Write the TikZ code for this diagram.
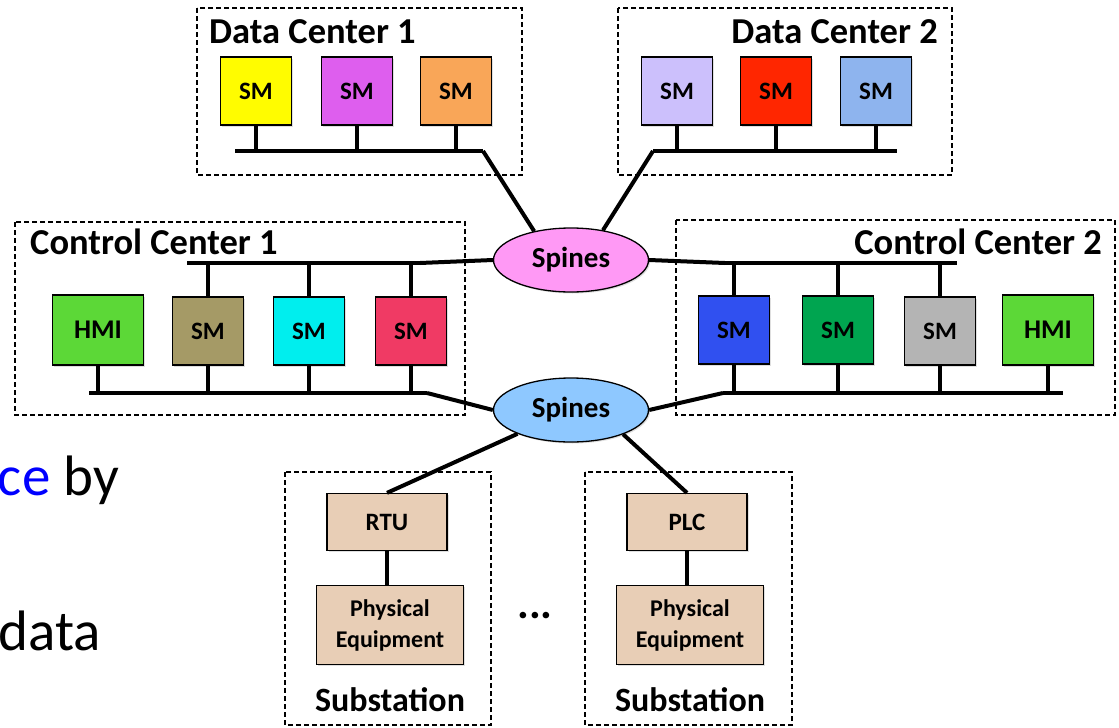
\documentclass[tikz,border=0pt]{standalone}
\usepackage{fontspec}
\setmainfont{Carlito}
\usetikzlibrary{shapes.geometric,shadows}
\definecolor{cYellow}{RGB}{255,252,0}
\definecolor{cPurple}{RGB}{222,94,238}
\definecolor{cOrange}{RGB}{249,166,88}
\definecolor{cLav}{RGB}{204,192,252}
\definecolor{cRed}{RGB}{255,38,0}
\definecolor{cLBlue}{RGB}{142,180,238}
\definecolor{cOlive}{RGB}{165,154,102}
\definecolor{cCyan}{RGB}{0,238,238}
\definecolor{cRose}{RGB}{240,58,100}
\definecolor{cBlue}{RGB}{48,80,240}
\definecolor{cGreen}{RGB}{0,165,80}
\definecolor{cGray}{RGB}{180,180,180}
\definecolor{cHMI}{RGB}{92,216,55}
\definecolor{cPink}{RGB}{255,153,245}
\definecolor{cSky}{RGB}{142,200,255}
\definecolor{cTan}{RGB}{232,206,182}
\definecolor{cTxtBlue}{RGB}{0,0,255}
\begin{document}
\begin{tikzpicture}[x=1pt,y=-1pt,
  dev/.style={draw=black, line width=1.3pt, minimum width=71pt, minimum height=68pt, inner sep=0pt,
    font=\bfseries\fontsize{25}{27}\selectfont,
    drop shadow={opacity=0.25, shadow xshift=1.5pt, shadow yshift=-1.5pt}},
  hmibox/.style={dev, minimum width=91pt, minimum height=70pt, font=\bfseries\fontsize{27}{29}\selectfont},
  tanbox/.style={dev, fill=cTan, minimum width=120pt, minimum height=57pt},
  pebox/.style={dev, fill=cTan, minimum width=147pt, minimum height=79pt, align=center,
    font=\bfseries\fontsize{24}{31}\selectfont},
  grp/.style={draw=black, dash pattern=on 5pt off 3pt, line width=1.3pt},
  bus/.style={line width=4pt},
  title/.style={font=\bfseries\fontsize{36.5}{38}\selectfont, inner sep=0pt},
  subtitle/.style={title, font=\bfseries\fontsize{34}{36}\selectfont},
  spine/.style={ellipse, draw=black, line width=1.3pt, minimum width=155pt, minimum height=64pt,
    inner sep=0pt, font=\bfseries\fontsize{29}{31}\selectfont,
    drop shadow={opacity=0.25, shadow xshift=1.5pt, shadow yshift=-1.5pt}},
  slide/.style={font=\fontsize{57}{60}\selectfont, inner sep=0pt}
]
\path[use as bounding box] (0,0) rectangle (1119,728);
\clip (0,0) rectangle (1119,728);
\fill[white] (0,0) rectangle (1119,728);

% slide text fragments
\node[slide, anchor=base east] (txtA) at (119,495) {\textcolor{cTxtBlue}{ce} by};
\node[slide, anchor=base east] (txtB) at (101,650) {data};

% group frames
\draw[grp] (197,8) rectangle (522,175);
\draw[grp] (618,8) rectangle (952,175);
\draw[grp] (15,222) rectangle (465,415);
\draw[grp] (676,220) rectangle (1115,415);
\draw[grp] (285,472) rectangle (491,725);
\draw[grp] (585,472) rectangle (792,725);

% titles
\node[title, anchor=base west] (tDC1) at (209,43) {Data Center 1};
\node[title, anchor=base east] (tDC2) at (938,43) {Data Center 2};
\node[title, anchor=base west] (tCC1) at (30,254) {Control Center 1};
\node[title, anchor=base east] (tCC2) at (1102,254) {Control Center 2};
\node[subtitle, anchor=base] (tS1) at (390,711) {Substation};
\node[subtitle, anchor=base] (tS2) at (690,711) {Substation};
\node[title, anchor=base, font=\bfseries\fontsize{44}{46}\selectfont] (dots) at (535,618) {...};

% spines
\node[spine, fill=cPink] (sp1) at (571,260) {Spines};
\node[spine, fill=cSky] (sp2) at (571,410) {Spines};

% data center 1
\node[dev, fill=cYellow] (a1) at (256,91) {SM};
\node[dev, fill=cPurple] (a2) at (357,91) {SM};
\node[dev, fill=cOrange] (a3) at (456,91) {SM};
% data center 2
\node[dev, fill=cLav] (b1) at (677,91) {SM};
\node[dev, fill=cRed] (b2) at (776,91) {SM};
\node[dev, fill=cLBlue] (b3) at (876,91) {SM};
% control center 1
\node[hmibox, fill=cHMI] (c0) at (98,330) {HMI};
\node[dev, fill=cOlive] (c1) at (208,331) {SM};
\node[dev, fill=cCyan] (c2) at (309,331) {SM};
\node[dev, fill=cRose] (c3) at (411,331) {SM};
% control center 2
\node[dev, fill=cBlue] (e1) at (734,330) {SM};
\node[dev, fill=cGreen] (e2) at (838,330) {SM};
\node[dev, fill=cGray] (e3) at (940,331) {SM};
\node[hmibox, fill=cHMI] (e4) at (1048,330) {HMI};
% substations
\node[tanbox] (rtu) at (387,522) {RTU};
\node[tanbox] (plc) at (687,522) {PLC};
\node[pebox] (pe1) at (390,625) {Physical\\Equipment};
\node[pebox] (pe2) at (690,625) {Physical\\Equipment};

% bus coordinates
\coordinate (dc1L) at (235,151); \coordinate (dc1R) at (483,151);
\coordinate (dc2L) at (653,151); \coordinate (dc2R) at (897,151);
\coordinate (cc1tL) at (187,263); \coordinate (cc1tR) at (420,263);
\coordinate (cc1bL) at (89,393); \coordinate (cc1bR) at (427,393);
\coordinate (cc2tL) at (725,263); \coordinate (cc2tR) at (957,263);
\coordinate (cc2bL) at (723,393); \coordinate (cc2bR) at (1063,393);

% buses
\draw[bus] (dc1L) -- (dc1R);
\draw[bus] (dc2L) -- (dc2R);
\draw[bus] (cc1tL) -- (cc1tR);
\draw[bus] (cc1bL) -- (cc1bR);
\draw[bus] (cc2tL) -- (cc2tR);
\draw[bus] (cc2bL) -- (cc2bR);

% stubs
\foreach \n in {a1,a2,a3} \draw[bus] (\n.south) -- (\n.south |- dc1L);
\foreach \n in {b1,b2,b3} \draw[bus] (\n.south) -- (\n.south |- dc2L);
\foreach \n in {c1,c2,c3} \draw[bus] (\n.north) -- (\n.north |- cc1tL);
\foreach \n in {c0,c1,c2,c3} \draw[bus] (\n.south) -- (\n.south |- cc1bL);
\foreach \n in {e1,e2,e3} \draw[bus] (\n.north) -- (\n.north |- cc2tL);
\foreach \n in {e1,e2,e3,e4} \draw[bus] (\n.south) -- (\n.south |- cc2bL);
\draw[bus] (rtu.south) -- (rtu.south |- pe1.north);
\draw[bus] (plc.south) -- (plc.south |- pe2.north);

% links to spines
\draw[bus] (dc1R) -- (sp1.142);
\draw[bus] (dc2L) -- (sp1.43);
\draw[bus] (cc1tR) -- (sp1.west);
\draw[bus] (cc2tL) -- (sp1.east);
\draw[bus] (cc1bR) -- (sp2.west);
\draw[bus] (cc2bL) -- (sp2.east);
\draw[bus] (sp2.204) -- (rtu.north);
\draw[bus] (sp2.335) -- (plc.north);
\end{tikzpicture}
\end{document}
